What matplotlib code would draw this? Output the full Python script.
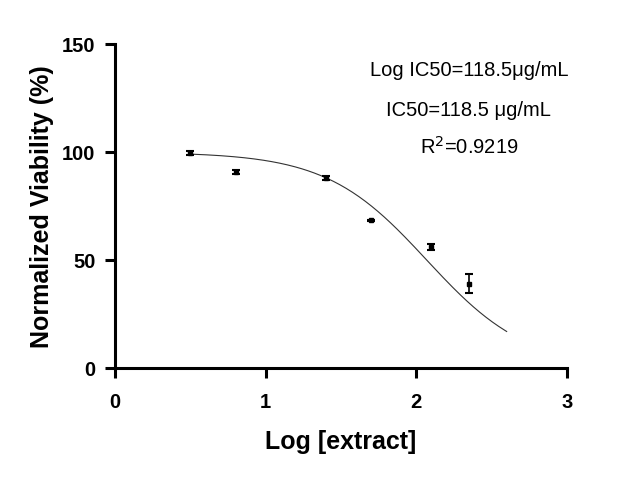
"""Dose-response viability plot with 4PL fit curve."""

import matplotlib.pyplot as plt
import numpy as np

plt.rcParams["font.family"] = ["Liberation Sans", "DejaVu Sans"]

log_conc = [0.5, 0.8, 1.4, 1.7, 2.1, 2.35]
viability = [99.5, 90.7, 88.0, 68.5, 56.0, 39.0]
viability_err = [1.0, 0.9, 1.0, 0.3, 1.3, 4.4]

# 4PL fit parameters (estimated from the drawn curve)
fit_top = 100.0
fit_bottom = 0.0
fit_log_ic50 = 2.07
fit_hill = 1.3
fit_range = (0.5, 2.6)

annot_lines = ["Log IC50=118.5μg/mL", "IC50=118.5 μg/mL", "R$^2$=0.9219"]


def four_pl(x):
    return fit_bottom + (fit_top - fit_bottom) / (1.0 + 10 ** (fit_hill * (x - fit_log_ic50)))


fig = plt.figure(figsize=(6.32, 4.8), dpi=100)
ax = fig.add_axes([0.182, 0.233, 0.715, 0.675])

x_fit = np.linspace(fit_range[0], fit_range[1], 200)
ax.plot(x_fit, four_pl(x_fit), color="#333333", linewidth=0.8)

ax.errorbar(
    log_conc,
    viability,
    yerr=viability_err,
    fmt="s",
    color="black",
    markersize=2.5,
    elinewidth=1.2,
    capsize=3,
    capthick=1.5,
)

ax.set_xlim(0, 3)
ax.set_ylim(0, 150)
ax.set_xticks([0, 1, 2, 3])
ax.set_yticks([0, 50, 100, 150])

for side in ("top", "right"):
    ax.spines[side].set_visible(False)
for side in ("left", "bottom"):
    ax.spines[side].set_linewidth(2.2)
ax.tick_params(width=2.2, length=7, labelsize=14.5)
ax.tick_params(axis="x", pad=11)
ax.tick_params(axis="y", pad=7)
for lbl in ax.get_xticklabels() + ax.get_yticklabels():
    lbl.set_fontweight("bold")

ax.set_xlabel("Log [extract]", fontsize=18, fontweight="bold", labelpad=13)
ax.set_ylabel("Normalized Viability (%)", fontsize=18, fontweight="bold", labelpad=6)

text_y = [71, 110, 147]
text_x = [469, 468, 469]
for s, px, py in zip(annot_lines, text_x, text_y):
    fig.text(px / 632, 1 - py / 480, s, fontsize=14.5, ha="center", va="center")

fig.savefig("out.png", dpi=100)
plt.close(fig)
